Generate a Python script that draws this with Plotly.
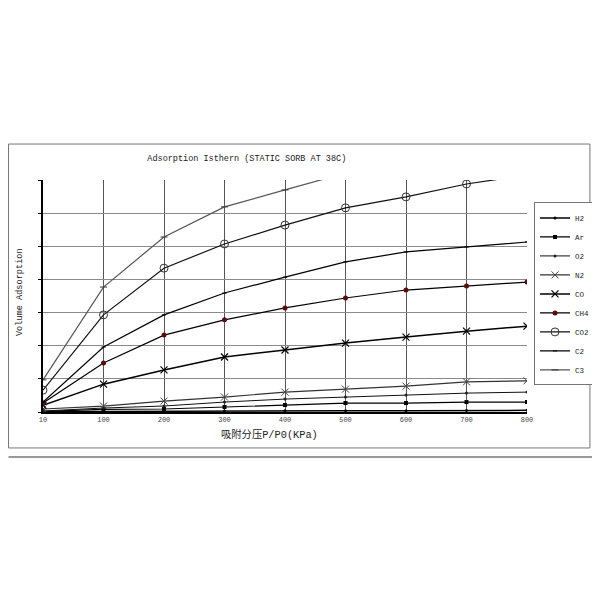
import plotly.graph_objects as go

# pressure points (KPa) -- evenly spaced categories on the chart
pressure = ["10", "100", "200", "300", "400", "500", "600", "700", "800"]

# adsorbed volume (arbitrary units, axis 0-70)
h2 = [0.1, 0.2, 0.25, 0.3, 0.35, 0.4, 0.4, 0.45, 0.5]
ar = [0.2, 0.8, 0.9, 1.5, 2.1, 2.7, 2.7, 3.0, 3.0]
o2 = [0.3, 1.2, 1.8, 3.0, 3.9, 4.5, 5.1, 5.7, 6.0]
n2 = [0.9, 1.8, 3.3, 4.5, 6.0, 6.9, 7.8, 9.1, 9.4]
co = [2.0, 8.4, 12.7, 16.6, 18.7, 20.8, 22.6, 24.4, 25.9]
ch4 = [2.7, 14.8, 23.2, 27.8, 31.4, 34.4, 36.8, 38.0, 39.2]
co2 = [6.6, 29.3, 43.4, 50.7, 56.4, 61.6, 64.9, 68.8, 71.5]
c2 = [3.0, 19.6, 29.3, 35.9, 40.7, 45.3, 48.3, 49.8, 51.3]
c3 = [9.7, 37.7, 52.8, 61.9, 67.0, 72.1, 75.4, 77.8, 79.7]

FONT = "Liberation Mono, Noto Sans CJK SC, monospace"

series = [
    ("H2", h2, dict(color="#000", width=1.5), dict(symbol="circle", size=3, color="#000")),
    ("Ar", ar, dict(color="#000", width=1.2), dict(symbol="square", size=4, color="#000")),
    ("O2", o2, dict(color="#111", width=1), dict(symbol="circle", size=3, color="#222")),
    ("N2", n2, dict(color="#333", width=1.2), dict(symbol="x-thin", size=7, line=dict(color="#444", width=1))),
    ("CO", co, dict(color="#000", width=1.5), dict(symbol="x-thin", size=7, line=dict(color="#000", width=1.2))),
    ("CH4", ch4, dict(color="#000", width=1.2), dict(symbol="circle", size=5, color="#5a0d0d")),
    ("CO2", co2, dict(color="#111", width=1.2), dict(symbol="circle-open", size=8, color="#333", line=dict(width=1))),
    ("C2", c2, dict(color="#000", width=1.2), dict(symbol="line-ew", size=3, line=dict(color="#000", width=1))),
    ("C3", c3, dict(color="#555", width=1.2), dict(symbol="line-ew", size=5, line=dict(color="#333", width=1))),
]

fig = go.Figure()
for name, vals, ln, mk in series:
    fig.add_trace(go.Scatter(x=pressure, y=vals, name=name, mode="lines+markers",
                             line=ln, marker=mk, cliponaxis=True))

# page body adds an 8px offset, margins account for it
fig.update_layout(
    width=600, height=600,
    margin=dict(l=35, r=81, t=172, b=196, autoexpand=False),
    paper_bgcolor="white", plot_bgcolor="white",
    font=dict(family=FONT, color="#222"),
    title=dict(text="Adsorption Isthern (STATIC SORB AT 38C)", x=0.398, y=0.75,
               xanchor="center", yanchor="middle", font=dict(size=8.5, color="#222")),
    legend=dict(x=1.0145, y=0.509, xanchor="left", yanchor="middle",
                bordercolor="#777", borderwidth=1, bgcolor="white",
                font=dict(size=7.5, color="#222"), itemwidth=30, tracegroupgap=0),
    showlegend=True,
)

fig.update_xaxes(type="category", range=[0, 8], showgrid=True, gridcolor="#555", gridwidth=1,
                 showline=True, linecolor="#000", linewidth=1.5, mirror=False,
                 tickfont=dict(size=7, color="#444"), ticks="")
fig.update_yaxes(range=[0, 70], dtick=10, showgrid=True, gridcolor="#8a8a8a", gridwidth=1.2,
                 showline=True, linecolor="#000", linewidth=1.5, showticklabels=False,
                 ticks="outside", ticklen=3, tickcolor="#000", zeroline=False)

# axis titles
fig.add_annotation(text="Volume Adsorption", x=-0.0475, y=0.517, xref="paper", yref="paper",
                   xanchor="center", yanchor="middle",
                   textangle=-90, showarrow=False, font=dict(size=8.6, color="#222"))
fig.add_annotation(text="吸附分压P/P0(KPa)", x=0.469, y=-0.099, xref="paper", yref="paper",
                   xanchor="center", yanchor="middle",
                   showarrow=False, font=dict(size=10.3, color="#222"))

# outer frame and page line
fig.add_shape(type="rect", xref="paper", yref="paper", x0=-0.0713, x1=1.130, y0=-0.155, y1=1.155,
              line=dict(color="#777", width=1))
fig.add_shape(type="line", xref="paper", yref="paper", x0=-0.0713, x1=1.151, y0=-0.194, y1=-0.194,
              line=dict(color="#777", width=1.5))

fig.write_html("out.html")
